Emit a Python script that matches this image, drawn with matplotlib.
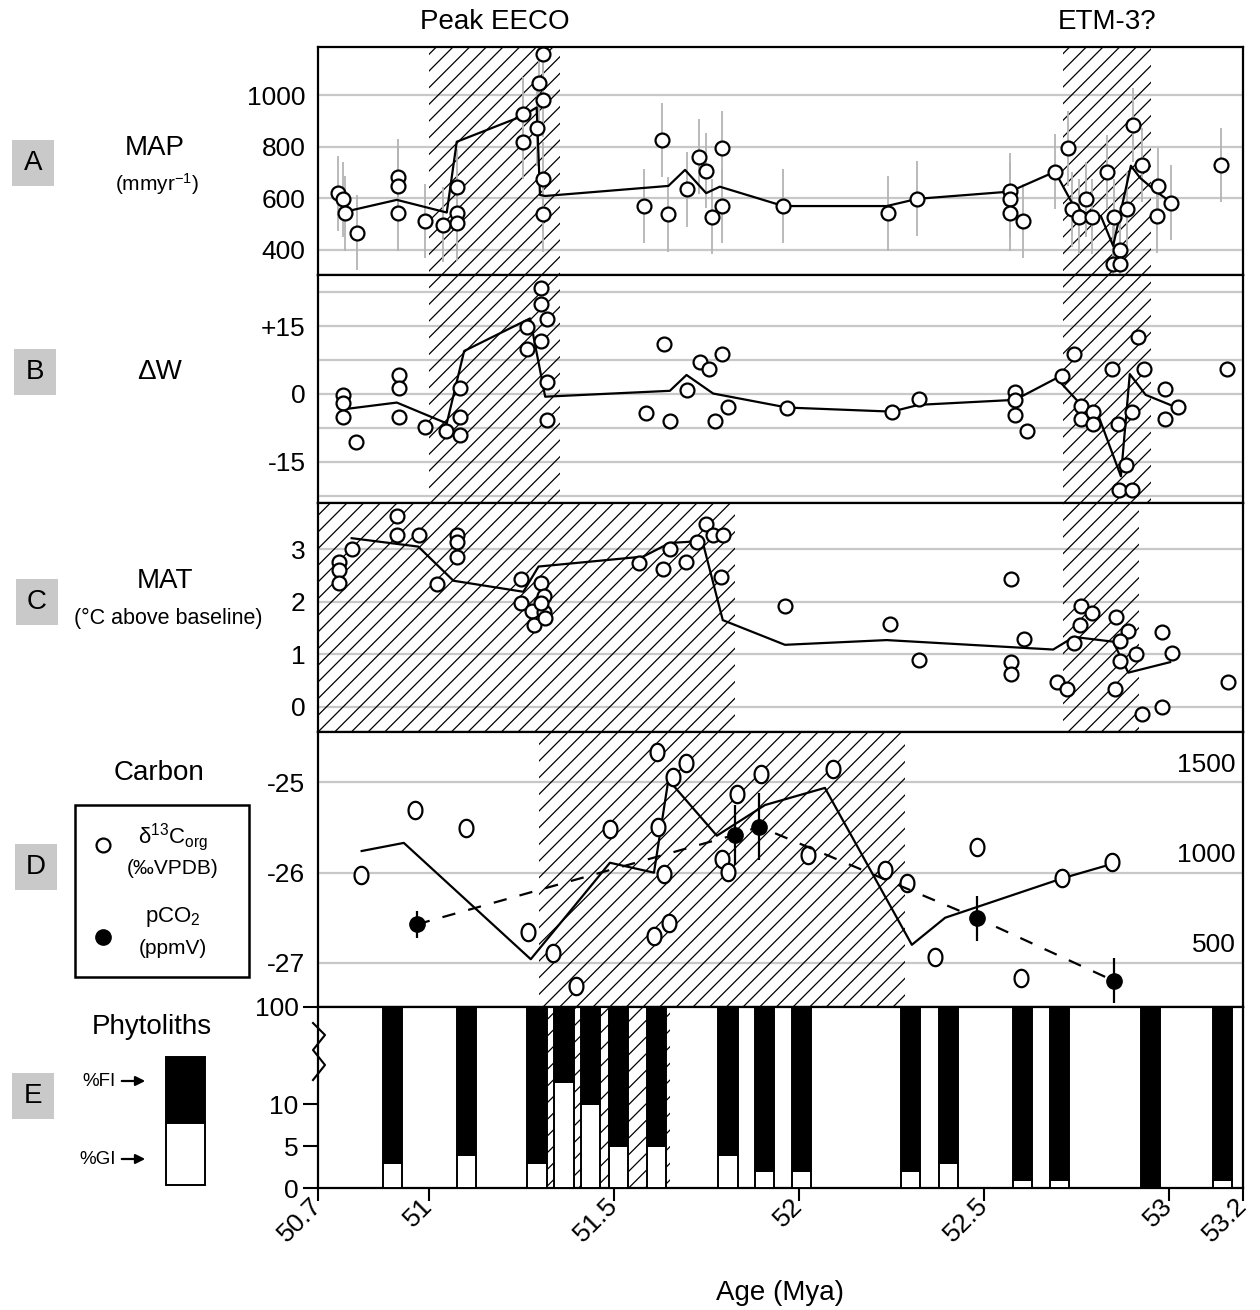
import numpy as np
import matplotlib
matplotlib.use('Agg')
import matplotlib.pyplot as plt
from matplotlib.path import Path
from matplotlib.patches import Rectangle, FancyArrowPatch
from matplotlib.lines import Line2D
import matplotlib.transforms as mtrans

plt.rcParams['font.family'] = ['Liberation Sans', 'DejaVu Sans']
plt.rcParams['mathtext.default'] = 'regular'
plt.rcParams['axes.unicode_minus'] = False
plt.rcParams['hatch.linewidth'] = 0.9
plt.rcParams['hatch.color'] = 'black'

# ---------------- data ----------------
# Panel A: MAP (mm/yr)
map_age = [50.753, 50.768, 50.773, 50.806, 50.915, 50.915, 50.915, 50.989, 51.037,
           51.075, 51.075, 51.075, 51.253, 51.253, 51.291, 51.307, 51.298, 51.307,
           51.309, 51.309, 51.582, 51.631, 51.647, 51.696, 51.731, 51.749, 51.791,
           51.791, 51.766, 51.958, 52.241, 52.320, 52.570, 52.570, 52.570, 52.605,
           52.692, 52.726, 52.739, 52.758, 52.775, 52.793, 52.833, 52.851, 52.868,
           52.849, 52.868, 52.886, 52.902, 52.926, 52.971, 52.968, 53.005, 53.141]
map_val = [620, 596, 542, 467, 684, 649, 542, 512, 497,
           645, 542, 503, 926, 819, 871, 1159, 1048, 981,
           674, 539, 570, 826, 539, 635, 761, 707, 794,
           570, 529, 570, 542, 598, 630, 596, 542, 512,
           703, 794, 558, 529, 596, 529, 702, 529, 400,
           346, 346, 558, 884, 729, 649, 533, 583, 729]
map_err = 145
map_line_age = [50.773, 50.913, 51.048, 51.075, 51.253, 51.291, 51.300, 51.314, 51.647,
                51.692, 51.749, 51.786, 51.958, 52.237, 52.320, 52.570, 52.692, 52.741,
                52.773, 52.816, 52.849, 52.897, 52.922, 52.970, 53.005]
map_line_val = [548, 594, 545, 819, 919, 952, 613, 609, 648,
                710, 620, 645, 570, 570, 598, 626, 703, 574,
                543, 531, 416, 726, 679, 621, 586]

# Panel B: delta W
dw_age = [50.767, 50.767, 50.767, 50.803, 50.919, 50.919, 50.919, 50.989, 51.046,
          51.084, 51.084, 51.084, 51.264, 51.264, 51.302, 51.302, 51.320, 51.302,
          51.320, 51.318, 51.586, 51.635, 51.651, 51.696, 51.732, 51.757, 51.791,
          51.773, 51.809, 51.968, 52.251, 52.324, 52.584, 52.584, 52.584, 52.617,
          52.710, 52.744, 52.761, 52.761, 52.795, 52.795, 52.847, 52.863, 52.899,
          52.883, 52.865, 52.899, 52.915, 52.933, 52.989, 53.023, 52.989, 53.156]
dw_val = [-0.2, -1.9, -5.1, -10.7, 4.3, 1.3, -5.1, -7.3, -8.1,
          1.3, -5.1, -9.0, 14.8, 9.9, 23.5, 19.9, 16.5, 11.8,
          2.6, -5.7, -4.3, 11.0, -5.9, 0.9, 7.1, 5.5, 8.8,
          -5.9, -2.9, -3.0, -3.9, -1.2, 0.5, -1.3, -4.6, -8.1,
          4.0, 8.8, -2.6, -5.6, -3.9, -6.6, 5.5, -6.6, -4.0,
          -15.8, -21.3, -21.3, 12.6, 5.5, 1.0, -2.8, -5.5, 5.5]
dw_line_age = [50.767, 50.913, 51.048, 51.095, 51.273, 51.314, 51.651, 51.696, 51.768,
               51.968, 52.251, 52.324, 52.584, 52.696, 52.759, 52.807, 52.870, 52.894,
               52.937, 53.003]
dw_line_val = [-3.4, -1.9, -6.5, 9.5, 16.7, -0.6, 0.7, 4.2, 0.1,
               -3.0, -3.9, -2.4, -1.3, 3.5, -2.1, -4.3, -18.2, 4.4,
               -0.2, -2.4]

# Panel C: MAT (deg C above baseline)
mat_age = [50.758, 50.758, 50.758, 50.791, 50.913, 50.913, 50.974, 51.022, 51.076,
           51.076, 51.076, 51.248, 51.248, 51.302, 51.311, 51.278, 51.311, 51.284,
           51.314, 51.302, 51.568, 51.633, 51.651, 51.694, 51.724, 51.749, 51.767,
           51.794, 51.788, 51.962, 52.246, 52.324, 52.573, 52.573, 52.573, 52.608,
           52.697, 52.724, 52.762, 52.793, 52.759, 52.743, 52.857, 52.888, 52.868,
           52.911, 52.868, 52.854, 52.928, 52.980, 53.009, 52.980, 53.160]
mat_val = [2.76, 2.60, 2.35, 3.00, 3.63, 3.28, 3.28, 2.34, 3.28,
           3.14, 2.86, 2.43, 1.97, 2.35, 2.10, 1.83, 1.81, 1.56,
           1.70, 1.97, 2.73, 2.62, 3.00, 2.75, 3.13, 3.48, 3.27,
           3.27, 2.48, 1.92, 1.57, 0.89, 2.43, 0.86, 0.62, 1.30,
           0.48, 0.33, 1.92, 1.78, 1.56, 1.22, 1.71, 1.44, 1.26,
           1.00, 0.88, 0.34, -0.14, 1.43, 1.02, 0.00, 0.48]
mat_line_age = [50.791, 50.971, 51.066, 51.255, 51.296, 51.579, 51.651, 51.701, 51.737,
                51.794, 51.962, 52.237, 52.687, 52.743, 52.849, 52.890, 53.003]
mat_line_val = [3.21, 3.05, 2.40, 2.19, 2.67, 2.86, 3.12, 3.14, 3.21,
                1.65, 1.18, 1.27, 1.09, 1.33, 1.24, 0.65, 0.85]

# Panel D: carbon
d13c_age = [50.816, 50.962, 51.099, 51.268, 51.336, 51.396, 51.489, 51.615, 51.695,
            51.660, 51.620, 51.634, 51.649, 51.608, 51.791, 51.807, 51.832, 51.897,
            52.093, 52.025, 52.232, 52.291, 52.480, 52.368, 52.600, 52.710, 52.845]
d13c_val = [-26.03, -25.30, -25.50, -26.66, -26.89, -27.26, -25.52, -24.66, -24.78,
            -24.94, -25.49, -26.01, -26.56, -26.70, -25.85, -25.99, -25.13, -24.91,
            -24.85, -25.80, -25.97, -26.12, -25.71, -26.93, -27.17, -26.06, -25.88]
d13c_line_age = [50.818, 50.932, 51.275, 51.489, 51.608, 51.647, 51.778, 51.908, 52.070,
                 52.305, 52.395, 52.714, 52.849]
d13c_line_val = [-25.76, -25.67, -26.96, -25.89, -26.00, -24.97, -25.59, -25.25, -25.06,
                 -26.80, -26.50, -26.06, -25.90]
pco2_age = [50.967, 51.827, 51.893, 52.482, 52.851]
pco2_val = [713, 1210, 1255, 747, 400]
pco2_err = [74, 167, 185, 125, 125]
pco2_ticks = [1500, 1000, 500]

# Panel E: phytoliths (%GI; %FI fills to 100)
phyto_age = [50.901, 51.101, 51.292, 51.365, 51.437, 51.513, 51.614, 51.808,
             51.907, 52.006, 52.301, 52.404, 52.605, 52.704, 52.949, 53.145]
gi_pct = [3, 4, 3, 31, 10, 5, 5, 4, 2, 2, 2, 3, 1, 1, 0, 1]

# shaded intervals
eeco_span = (51.000, 51.354)
etm3_span = (52.714, 52.950)
mat_spans = [(50.70, 51.827), (52.714, 52.920)]
carbon_span = (51.298, 52.286)
phyto_span = (51.322, 51.651)

x_ticks = [50.7, 51, 51.5, 52, 52.5, 53, 53.2]
x_labels = ['50.7', '51', '51.5', '52', '52.5', '53', '53.2']

# ---------------- figure ----------------
W, H = 1260, 1310
fig = plt.figure(figsize=(12.6, 13.1), dpi=100)


def fx(px):
    return px / W


def fy(py):
    return 1 - py / H


X0, X1 = 318, 1243
GRID = '#c8c8c8'
TICK_FS = 19


def add_panel(top, bottom):
    ax = fig.add_axes([fx(X0), fy(bottom), (X1 - X0) / W, (bottom - top) / H])
    ax.set_xlim(50.7, 53.2)
    for s in ax.spines.values():
        s.set_linewidth(1.6)
    ax.tick_params(axis='x', bottom=False, labelbottom=False)
    ax.tick_params(axis='y', length=0, pad=9, labelsize=TICK_FS)
    ax.set_axisbelow(True)
    ax.yaxis.grid(True, color=GRID, lw=1.6)
    return ax


def hatch(ax, span, z=1):
    ax.axvspan(span[0], span[1], facecolor='none', edgecolor='black', hatch='//',
               linewidth=0, zorder=z)


circ = dict(linestyle='none', marker='o', ms=10, mfc='white', mec='black', mew=1.6, zorder=5)

# Panel A
axa = add_panel(47, 275)
axa.set_ylim(303, 1186)
axa.set_yticks([400, 600, 800, 1000])
hatch(axa, eeco_span)
hatch(axa, etm3_span)
axa.errorbar(map_age, map_val, yerr=map_err, fmt='none', ecolor='#b4b4b4',
             elinewidth=1.3, capsize=0, zorder=2)
axa.plot(map_line_age, map_line_val, color='black', lw=1.6, zorder=4)
axa.plot(map_age, map_val, **circ)

# Panel B
axb = add_panel(275, 503)
axb.set_ylim(-24.1, 26.3)
axb.set_yticks([-22.5, -15, -7.5, 0, 7.5, 15, 22.5])
axb.set_yticklabels(['', '-15', '', '0', '', '+15', ''])
hatch(axb, eeco_span)
hatch(axb, etm3_span)
axb.plot(dw_line_age, dw_line_val, color='black', lw=1.6, zorder=4)
axb.plot(dw_age, dw_val, **circ)

# Panel C
axc = add_panel(503, 732)
axc.set_ylim(-0.48, 3.88)
axc.set_yticks([0, 1, 2, 3])
for sp in mat_spans:
    hatch(axc, sp)
axc.plot(mat_line_age, mat_line_val, color='black', lw=1.6, zorder=4)
axc.plot(mat_age, mat_val, **circ)

# Panel D
axd = add_panel(732, 1007)
d_lo, d_hi = -27.49, -24.44
axd.set_ylim(d_lo, d_hi)
axd.set_yticks([-27, -26, -25])
hatch(axd, carbon_span)
axd.plot(d13c_line_age, d13c_line_val, color='black', lw=1.6, zorder=4)
th = np.linspace(0, 2 * np.pi, 64)
ell = Path(np.column_stack([0.8 * np.cos(th), np.sin(th)]))
axd.plot(d13c_age, d13c_val, linestyle='none', marker=ell, ms=12.5, mfc='white',
         mec='black', mew=1.6, zorder=5)


def to_pco2(d):
    return pco2_ticks[0] + (d - (-25)) * (pco2_ticks[0] - pco2_ticks[1])


ax2 = axd.twinx()
ax2.set_ylim(to_pco2(d_lo), to_pco2(d_hi))
ax2.set_yticks([])
for s in ax2.spines.values():
    s.set_visible(False)
ax2.plot(pco2_age, pco2_val, color='black', lw=1.6, ls=(0, (6, 6)), zorder=3)
ax2.errorbar(pco2_age, pco2_val, yerr=pco2_err, fmt='o', color='black', ms=11,
             elinewidth=1.6, capsize=0, zorder=6)
tr = mtrans.blended_transform_factory(ax2.transAxes, ax2.transData)
for v in pco2_ticks:
    ax2.annotate(str(v), xy=(0.992, v), xycoords=tr, xytext=(0, 4),
                 textcoords='offset points', ha='right', va='bottom', fontsize=TICK_FS)

# Panel E
axe = fig.add_axes([fx(X0), fy(1188), (X1 - X0) / W, (1188 - 1007) / H])
axe.set_xlim(50.7, 53.2)
for s in axe.spines.values():
    s.set_linewidth(1.6)
K = (97.3 / 90) / 8.35


def fwd(v):
    v = np.asarray(v, dtype=float)
    return np.where(v <= 10, v, 10 + (v - 10) * K)


def inv(p):
    p = np.asarray(p, dtype=float)
    return np.where(p <= 10, p, 10 + (p - 10) / K)


axe.set_yscale('function', functions=(fwd, inv))
axe.set_ylim(0, 100)
axe.set_yticks([0, 5, 10, 100])
axe.set_yticklabels(['0', '5', '10', '100'])
axe.yaxis.set_minor_locator(matplotlib.ticker.NullLocator())
axe.tick_params(axis='y', length=11, width=1.5, pad=3, labelsize=TICK_FS)
hatch(axe, phyto_span)
gi = np.array(gi_pct, dtype=float)
bw = 0.052
axe.bar(phyto_age, gi, width=bw, color='white', edgecolor='black', lw=1.4, zorder=3)
axe.bar(phyto_age, 100 - gi, bottom=gi, width=bw, color='black', edgecolor='black',
        lw=1.4, zorder=3)
axe.set_xticks(x_ticks)
axe.set_xticklabels(x_labels)
axe.tick_params(axis='x', length=9, width=1.5, pad=1, labelsize=TICK_FS)
for lab in axe.get_xticklabels():
    lab.set_rotation(45)
    lab.set_ha('right')
    lab.set_va('center')
    lab.set_rotation_mode('anchor')
# axis-break zigzag
zz_px = [(313, 1023), (325, 1035), (313, 1050), (325, 1065), (313, 1080)]
axe.plot([(p[0] - X0) / (X1 - X0) for p in zz_px],
         [(1188 - p[1]) / (1188 - 1007) for p in zz_px],
         transform=axe.transAxes, color='black', lw=1.5, clip_on=False)

# ---------------- annotations ----------------
fig.text(fx(780), fy(1293), 'Age (Mya)', ha='center', va='center', fontsize=20)
fig.text(fx(495), fy(22), 'Peak EECO', ha='center', va='center', fontsize=20)
fig.text(fx(1107), fy(22), 'ETM-3?', ha='center', va='center', fontsize=20)

for letter, (cx, cy) in zip('ABCDE', [(33, 163), (35, 372), (37, 602), (36, 867), (33, 1096)]):
    fig.add_artist(Rectangle((fx(cx - 21), fy(cy + 23)), 42 / W, 46 / H,
                             transform=fig.transFigure, facecolor='#c9c9c9',
                             edgecolor='none'))
    fig.text(fx(cx), fy(cy), letter, ha='center', va='center', fontsize=20)

fig.text(fx(155), fy(148), 'MAP', ha='center', va='center', fontsize=20)
fig.text(fx(157), fy(184), '(mmyr$^{-1}$)', ha='center', va='center', fontsize=15)
fig.text(fx(160), fy(372), 'ΔW', ha='center', va='center', fontsize=20)
fig.text(fx(165), fy(581), 'MAT', ha='center', va='center', fontsize=20)
fig.text(fx(168), fy(618), '(°C above baseline)', ha='center', va='center', fontsize=15.5)
fig.text(fx(159), fy(773), 'Carbon', ha='center', va='center', fontsize=20)

fig.add_artist(Rectangle((fx(75), fy(977)), (249 - 75) / W, (977 - 805) / H,
                         transform=fig.transFigure, fill=False, edgecolor='black', lw=1.8))
fig.add_artist(Line2D([fx(103)], [fy(845)], transform=fig.transFigure, marker='o', ms=10,
                      mfc='white', mec='black', mew=1.6))
fig.add_artist(Line2D([fx(103)], [fy(937)], transform=fig.transFigure, marker='o', ms=11,
                      mfc='black', mec='black'))
fig.text(fx(173), fy(837), 'δ$^{13}$C$_{org}$', ha='center', va='center', fontsize=16)
fig.text(fx(173), fy(868), '(‰VPDB)', ha='center', va='center', fontsize=15)
fig.text(fx(173), fy(917), 'pCO$_2$', ha='center', va='center', fontsize=16)
fig.text(fx(173), fy(948), '(ppmV)', ha='center', va='center', fontsize=15)

fig.text(fx(152), fy(1027), 'Phytoliths', ha='center', va='center', fontsize=20)
fig.add_artist(Rectangle((fx(166), fy(1123)), 39 / W, (1123 - 1057) / H,
                         transform=fig.transFigure, facecolor='black', edgecolor='black', lw=1.4))
fig.add_artist(Rectangle((fx(166), fy(1185)), 39 / W, (1185 - 1123) / H,
                         transform=fig.transFigure, facecolor='white', edgecolor='black', lw=1.4))
for lbl, yy in [('%FI', 1081), ('%GI', 1159)]:
    fig.text(fx(116), fy(yy), lbl, ha='right', va='center', fontsize=13.5)
    fig.add_artist(FancyArrowPatch((fx(119), fy(yy)), (fx(148), fy(yy)),
                                   transform=fig.transFigure, arrowstyle='-|>',
                                   mutation_scale=14, color='black', lw=1.6))

fig.savefig('out.png', dpi=100, facecolor='white')
